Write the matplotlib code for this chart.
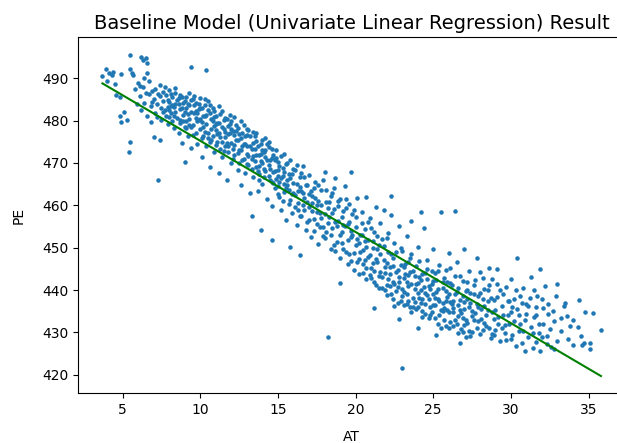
import matplotlib
matplotlib.use("Agg")
import matplotlib.pyplot as plt

plt.rcParams['savefig.bbox'] = 'standard'

# Scatter points (AT, PE), 10 per row
at = [
    3.7, 3.9, 4.1, 4.3, 4.0, 4.5, 4.6, 4.8, 4.4, 4.9,
    5.5, 6.2, 6.3, 6.5, 6.6, 5.5, 5.6, 5.7, 6.6, 5.1,
    4.8, 4.9, 5.3, 5.5, 5.4, 7.3, 7.0, 7.4, 9.4, 10.4,
    5.8, 6.0, 6.1, 6.3, 6.4, 6.5, 6.7, 6.8, 6.9, 7.0,
    5.9, 6.2, 6.6, 6.8, 7.1, 7.2, 7.3, 7.4, 7.5, 7.6,
    7.7, 7.8, 7.9, 8.0, 8.0, 8.1, 8.2, 8.3, 8.3, 8.4,
    8.5, 8.5, 8.6, 8.7, 8.7, 8.8, 8.9, 8.9, 9.0, 9.0,
    9.1, 9.1, 9.2, 9.3, 9.3, 9.4, 9.5, 9.5, 9.6, 9.7,
    9.7, 9.8, 9.9, 9.9, 10.0, 10.0, 10.1, 10.2, 10.2, 10.3,
    10.4, 10.4, 10.5, 10.6, 10.6, 10.7, 10.8, 10.8, 10.9, 11.0,
    11.0, 11.1, 11.2, 11.2, 11.3, 11.4, 11.4, 11.5, 11.6, 11.6,
    11.7, 11.8, 11.8, 11.9, 12.0, 12.0, 12.1, 12.2, 12.2, 12.3,
    12.4, 12.4, 12.5, 12.6, 12.6, 12.7, 12.8, 12.8, 12.9, 13.0,
    13.0, 13.1, 13.2, 13.2, 13.3, 13.4, 13.4, 13.5, 13.6, 13.6,
    13.7, 13.8, 13.8, 13.9, 14.0, 14.0, 14.1, 14.2, 14.2, 14.3,
    14.4, 14.4, 14.5, 14.6, 14.6, 14.7, 14.8, 14.8, 14.9, 15.0,
    15.0, 15.1, 15.2, 15.2, 15.3, 15.4, 15.5, 15.5, 15.6, 15.7,
    15.8, 15.8, 15.9, 16.0, 16.1, 16.1, 16.2, 16.3, 16.4, 16.5,
    16.5, 16.6, 16.7, 16.8, 16.9, 17.0, 17.0, 17.1, 17.2, 17.3,
    17.4, 17.5, 17.6, 17.7, 17.8, 17.9, 18.0, 18.0, 18.1, 18.2,
    18.3, 18.4, 18.5, 18.5, 18.6, 18.7, 18.8, 18.9, 19.0, 19.0,
    19.1, 19.2, 19.3, 19.4, 19.5, 19.5, 19.6, 19.7, 19.8, 19.9,
    20.0, 20.0, 20.1, 20.2, 20.3, 20.4, 20.5, 20.5, 20.6, 20.7,
    20.8, 20.8, 20.9, 21.0, 21.1, 21.2, 21.2, 21.3, 21.4, 21.5,
    21.5, 21.6, 21.7, 21.8, 21.9, 22.0, 22.0, 22.1, 22.2, 22.3,
    22.4, 22.4, 22.5, 22.6, 22.7, 22.8, 22.9, 23.0, 23.0, 23.1,
    23.2, 23.3, 23.3, 23.4, 23.5, 23.6, 23.7, 23.8, 23.9, 24.0,
    24.0, 24.1, 24.2, 24.3, 24.4, 24.5, 24.5, 24.6, 24.7, 24.8,
    24.9, 25.0, 25.0, 25.1, 25.2, 25.3, 25.4, 25.5, 25.5, 25.6,
    25.7, 25.8, 25.9, 26.0, 26.0, 26.1, 26.2, 26.3, 26.4, 26.5,
    26.5, 26.6, 26.7, 26.8, 26.9, 27.0, 27.0, 27.1, 27.2, 27.3,
    27.4, 27.5, 27.6, 27.7, 27.8, 27.9, 28.0, 28.1, 28.2, 28.3,
    28.4, 28.5, 28.6, 28.7, 28.8, 28.9, 29.0, 29.1, 29.2, 29.3,
    29.4, 29.5, 29.6, 29.7, 29.8, 29.9, 30.0, 30.1, 30.2, 30.3,
    30.4, 30.5, 30.6, 30.7, 30.9, 31.0, 31.1, 31.3, 31.4, 31.5,
    31.6, 31.8, 31.9, 32.0, 32.1, 32.3, 32.5, 32.7, 33.0, 33.4,
    33.7, 34.0, 34.5, 34.8, 34.6, 35.8, 34.3, 33.2, 32.8, 35.1,
    7.5, 7.6, 7.8, 7.9, 8.1, 8.2, 8.4, 8.6, 8.8, 8.9,
    9.0, 9.2, 9.3, 9.4, 9.6, 9.8, 9.8, 10.0, 10.1, 10.3,
    10.3, 10.5, 10.6, 10.7, 10.9, 10.9, 11.1, 11.2, 11.3, 11.5,
    11.6, 11.7, 11.9, 12.0, 12.1, 12.3, 12.4, 12.5, 12.7, 12.9,
    13.0, 13.1, 13.3, 13.5, 13.6, 13.7, 13.9, 14.0, 14.1, 14.3,
    14.4, 14.5, 14.7, 14.9, 15.0, 15.1, 15.3, 15.4, 15.6, 15.7,
    15.9, 16.0, 16.2, 16.3, 16.4, 16.6, 16.7, 16.9, 17.0, 17.2,
    17.3, 17.5, 17.6, 17.8, 17.9, 18.1, 18.2, 18.4, 18.6, 18.7,
    18.9, 19.1, 19.2, 19.4, 19.6, 19.7, 19.9, 20.1, 20.2, 20.4,
    20.6, 20.7, 20.9, 21.0, 21.1, 21.3, 21.4, 21.6, 21.7, 21.9,
    22.0, 22.1, 22.3, 22.4, 22.6, 22.7, 22.9, 23.0, 23.1, 23.3,
    23.4, 23.5, 23.6, 23.8, 23.9, 24.1, 24.2, 24.3, 24.5, 24.6,
    24.7, 24.9, 25.0, 25.1, 25.3, 25.4, 25.6, 25.7, 25.9, 26.0,
    26.1, 26.3, 26.4, 26.6, 26.7, 26.9, 27.0, 27.2, 27.3, 27.5,
    27.6, 27.8, 27.9, 28.0, 28.2, 28.3, 28.5, 28.6, 28.8, 28.9,
    29.1, 29.4, 29.7, 30.0, 30.2, 30.4, 30.6, 30.8, 31.1, 31.3,
    31.5, 31.7, 32.0, 32.2, 32.4, 32.6, 32.9, 33.2, 33.5, 34.4,
    35.3, 34.7, 35.1, 34.0, 33.8, 33.0, 31.9, 32.4, 30.9, 31.6,
    20.7, 22.3, 24.2, 26.4, 21.2, 25.2, 26.7, 16.4, 14.6, 13.9,
    13.3, 15.8, 19.0, 19.7, 21.8, 23.6, 22.8, 24.0, 25.8, 27.1,
    22.2, 22.5, 22.8, 23.1, 23.4, 23.7, 24.0, 24.3, 24.6, 24.8,
    25.1, 25.3, 25.6, 25.8, 26.1, 26.3, 26.6, 26.9, 27.2, 27.4,
    8.0, 8.4, 8.7, 9.1, 9.4, 9.7, 10.1, 10.5, 11.0, 11.4,
    11.8, 12.2, 12.6, 13.0, 13.4, 13.8, 14.2, 14.6, 15.0, 15.4,
    6.1, 6.4, 6.7, 6.9, 7.1, 7.2, 7.4, 7.6, 7.7, 7.9,
    8.0, 8.1, 8.2, 8.3, 8.4, 8.6, 8.7, 8.8, 9.0, 9.1,
    9.2, 9.3, 9.4, 9.5, 9.6, 9.7, 9.9, 10.0, 10.1, 10.2,
    10.3, 10.4, 10.5, 10.6, 10.7, 10.8, 10.9, 11.0, 11.1, 11.2,
    11.3, 11.4, 11.5, 11.6, 11.7, 11.8, 11.9, 12.0, 12.1, 12.2,
    12.3, 12.4, 12.5, 12.6, 12.7, 12.8, 12.9, 13.0, 13.1, 13.2,
    13.3, 13.4, 13.5, 13.6, 13.7, 13.8, 13.9, 14.0, 14.1, 14.2,
    14.3, 14.4, 14.5, 14.6, 14.7, 14.8, 14.9, 15.0, 15.1, 15.2,
    15.3, 15.4, 15.5, 15.6, 15.7, 15.8, 15.9, 16.0, 16.1, 16.2,
    16.3, 16.4, 16.5, 16.6, 16.7, 16.8, 16.9, 17.0, 17.1, 17.2,
    17.3, 17.4, 17.5, 17.6, 17.7, 17.8, 17.9, 18.0, 18.1, 18.2,
    18.3, 18.4, 18.5, 18.6, 18.7, 18.8, 18.9, 19.0, 19.1, 19.2,
    19.3, 19.4, 19.5, 19.6, 19.7, 19.8, 19.9, 20.0, 20.1, 20.2,
    20.3, 20.4, 20.5, 20.6, 20.7, 20.8, 20.9, 21.0, 21.1, 21.2,
    21.3, 21.4, 21.5, 21.6, 21.7, 21.8, 21.9, 22.0, 22.1, 22.2,
    22.3, 22.4, 22.5, 22.6, 22.7, 22.8, 22.9, 23.0, 23.1, 23.2,
    23.3, 23.4, 23.5, 23.6, 23.7, 23.8, 23.9, 24.0, 24.1, 24.2,
    24.3, 24.4, 24.5, 24.6, 24.7, 24.8, 24.9, 25.0, 25.1, 25.2,
    25.3, 25.4, 25.5, 25.6, 25.7, 25.8, 25.9, 26.0, 26.1, 26.2,
    26.3, 26.4, 26.5, 26.6, 26.7, 26.8, 26.9, 27.0, 27.1, 27.2,
    27.3, 27.4, 27.5, 27.6, 27.7, 27.8, 27.9, 28.0, 28.1, 28.2,
    28.3, 28.4, 28.5, 28.6, 28.7, 28.8, 28.9, 29.0, 29.1, 29.2,
    29.3, 29.5, 29.6, 29.8, 29.9, 30.0, 30.1, 30.3, 30.5, 30.7,
    30.8, 31.0, 31.2, 31.4, 31.6, 31.8, 32.1, 32.3, 32.8, 33.6,
]

pe = [
    490.5, 492.3, 491.2, 490.7, 489.4, 488.6, 486.0, 485.6, 491.6, 491.1,
    495.6, 495.0, 494.3, 494.7, 493.5, 492.1, 491.2, 490.8, 491.2, 482.1,
    481.1, 479.7, 480.1, 475.0, 472.6, 466.1, 476.2, 475.4, 492.7, 492.0,
    487.5, 489.0, 485.8, 487.9, 484.2, 486.6, 489.3, 483.5, 487.0, 485.2,
    484.0, 482.6, 481.0, 479.6, 481.8, 483.9, 486.3, 488.4, 480.2, 484.7,
    482.5, 486.1, 479.1, 484.4, 487.3, 481.7, 485.5, 478.2, 483.2, 486.5,
    480.6, 484.9, 477.0, 482.8, 486.0, 474.8, 481.3, 484.1, 470.2, 478.6,
    482.9, 485.7, 476.4, 480.5, 483.6, 473.5, 479.0, 485.0, 481.9, 477.2,
    484.2, 474.6, 480.1, 482.7, 478.0, 485.3, 471.4, 476.3, 481.2, 483.8,
    474.0, 479.2, 477.1, 481.8, 469.0, 475.5, 479.9, 483.0, 472.6, 477.8,
    481.0, 474.9, 467.6, 479.4, 476.2, 482.3, 471.3, 478.1, 474.0, 480.6,
    465.9, 476.9, 472.5, 479.2, 474.8, 469.9, 477.6, 480.9, 471.8, 475.4,
    468.3, 478.3, 473.1, 476.0, 464.7, 470.6, 474.4, 479.0, 467.7, 472.2,
    476.6, 469.5, 462.9, 474.1, 471.0, 477.3, 466.8, 473.2, 469.0, 475.3,
    463.4, 471.9, 467.3, 474.5, 470.1, 465.0, 472.6, 468.2, 476.0, 461.5,
    469.6, 473.7, 466.1, 471.2, 459.8, 467.9, 464.0, 470.8, 473.0, 462.6,
    468.4, 465.6, 471.6, 459.0, 466.9, 463.1, 469.7, 456.6, 464.8, 467.5,
    461.2, 470.6, 458.1, 465.2, 462.4, 468.3, 455.3, 460.5, 466.6, 463.5,
    457.6, 469.4, 461.8, 454.2, 464.7, 459.7, 467.2, 452.6, 462.3, 456.8,
    465.5, 460.0, 450.9, 458.3, 463.6, 455.0, 467.9, 452.2, 460.9, 428.9,
    457.3, 449.6, 463.0, 454.6, 459.1, 466.4, 451.4, 456.2, 447.5, 461.5,
    453.8, 458.6, 464.5, 449.1, 455.7, 446.2, 460.2, 452.5, 457.9, 444.8,
    450.6, 455.0, 461.8, 447.3, 452.9, 458.4, 444.0, 449.4, 454.3, 442.6,
    447.9, 451.8, 457.0, 445.2, 449.9, 441.8, 453.6, 459.6, 446.6, 443.4,
    450.7, 455.9, 440.5, 447.2, 444.1, 452.3, 438.9, 449.0, 445.5, 457.8,
    442.0, 447.6, 451.1, 439.7, 444.8, 455.2, 437.4, 421.5, 449.3, 442.8,
    446.1, 436.6, 452.7, 440.9, 444.2, 448.5, 438.1, 443.3, 435.5, 450.2,
    441.6, 446.8, 437.0, 443.9, 454.6, 439.4, 434.3, 447.1, 441.0, 436.1,
    444.5, 439.0, 449.7, 433.5, 442.4, 437.8, 446.0, 458.5, 435.3, 440.6,
    432.9, 444.7, 438.4, 448.8, 434.7, 441.7, 436.6, 431.6, 443.3, 439.5,
    446.6, 433.9, 437.7, 430.8, 442.1, 435.6, 449.8, 439.8, 432.3, 444.4,
    436.9, 430.1, 441.2, 434.5, 447.5, 438.6, 429.6, 433.1, 442.9, 436.3,
    431.4, 439.9, 445.2, 428.6, 434.8, 437.6, 430.5, 441.5, 433.7, 427.9,
    436.2, 439.1, 431.8, 428.2, 434.0, 437.3, 442.6, 429.4, 432.6, 426.8,
    435.5, 430.3, 438.7, 427.5, 433.0, 436.7, 428.9, 431.2, 426.3, 440.1,
    434.2, 429.8, 425.6, 437.9, 432.0, 427.2, 430.7, 435.1, 428.0, 436.3,
    428.4, 432.9, 429.2, 434.9, 427.0, 430.5, 431.3, 433.4, 426.0, 427.6,
    483.0, 486.8, 481.2, 484.8, 483.5, 480.0, 482.1, 485.3, 483.0, 479.8,
    484.6, 481.5, 486.6, 478.4, 483.7, 479.9, 481.9, 483.1, 479.7, 481.0,
    477.4, 484.6, 475.0, 480.5, 478.7, 482.2, 476.9, 483.4, 473.3, 480.2,
    477.3, 474.8, 481.4, 478.0, 473.2, 478.9, 475.5, 470.1, 477.2, 474.6,
    469.8, 477.9, 473.4, 470.4, 477.0, 468.0, 472.1, 475.4, 466.8, 470.6,
    474.9, 468.7, 472.0, 466.2, 470.3, 462.0, 468.9, 472.2, 466.1, 460.3,
    467.4, 463.0, 469.5, 458.9, 464.3, 460.1, 466.8, 456.1, 462.6, 458.6,
    464.1, 455.6, 461.0, 457.1, 466.0, 453.7, 459.4, 462.1, 450.7, 456.0,
    459.9, 451.1, 455.3, 461.6, 448.6, 454.0, 458.8, 446.6, 451.0, 455.9,
    447.0, 450.2, 443.6, 454.7, 446.5, 441.3, 449.7, 444.3, 452.1, 439.9,
    446.3, 442.5, 448.4, 437.9, 444.2, 440.7, 450.0, 438.5, 445.4, 441.9,
    437.4, 447.6, 434.7, 440.2, 445.7, 438.2, 442.3, 435.1, 444.0, 438.8,
    433.3, 441.4, 436.4, 444.1, 440.3, 434.2, 437.0, 442.9, 435.4, 439.1,
    445.3, 437.3, 433.0, 440.5, 435.2, 438.5, 431.7, 441.9, 436.0, 433.8,
    439.0, 431.0, 435.9, 444.3, 438.0, 432.2, 435.4, 441.1, 429.7, 433.2,
    444.9, 431.0, 440.8, 434.8, 438.0, 447.5, 432.0, 440.6, 436.3, 443.0,
    433.6, 438.6, 429.0, 440.9, 434.4, 426.5, 438.5, 430.4, 436.9, 437.6,
    434.5, 427.4, 426.0, 427.0, 431.5, 441.5, 445.0, 436.7, 425.7, 427.8,
    462.0, 462.1, 458.4, 458.6, 435.7, 429.3, 427.4, 448.2, 451.8, 454.1,
    457.4, 450.1, 441.6, 467.9, 458.9, 456.2, 433.2, 431.0, 431.5, 428.8,
    441.0, 436.2, 443.0, 439.6, 443.5, 435.9, 439.3, 437.9, 442.6, 434.0,
    438.1, 432.0, 435.1, 439.7, 432.5, 434.9, 429.9, 433.4, 437.9, 429.2,
    482.6, 484.0, 479.5, 480.0, 484.9, 482.3, 476.0, 482.5, 479.1, 475.0,
    478.7, 476.6, 473.0, 478.1, 471.7, 469.4, 473.1, 465.4, 467.0, 465.0,
    488.2, 490.1, 486.3, 484.4, 487.5, 480.8, 485.9, 482.0, 487.9, 483.3,
    480.9, 486.2, 483.8, 481.0, 487.6, 483.9, 480.1, 485.6, 482.0, 478.3,
    483.9, 479.0, 482.1, 476.5, 485.9, 480.6, 484.0, 480.4, 482.9, 478.4,
    485.0, 481.4, 475.8, 483.6, 478.0, 476.4, 480.8, 474.3, 479.4, 477.0,
    481.6, 478.6, 472.8, 476.2, 480.4, 474.1, 477.0, 480.0, 471.0, 474.3,
    477.5, 472.4, 476.8, 479.8, 474.0, 470.9, 476.4, 474.0, 471.6, 476.3,
    468.6, 474.8, 476.4, 471.8, 473.9, 465.9, 470.4, 473.1, 468.6, 471.4,
    474.4, 467.0, 470.6, 473.2, 465.3, 468.0, 471.2, 464.6, 469.2, 466.5,
    461.0, 467.8, 464.2, 470.1, 463.7, 466.4, 462.6, 468.6, 459.6, 465.1,
    463.3, 457.4, 467.7, 462.8, 458.8, 464.8, 460.7, 456.6, 463.4, 460.5,
    453.9, 461.8, 458.4, 464.9, 455.0, 460.1, 452.7, 457.9, 463.7, 455.8,
    460.7, 453.0, 458.1, 464.1, 449.2, 455.1, 461.1, 452.9, 457.2, 449.8,
    455.2, 459.3, 451.7, 456.1, 446.9, 453.1, 448.8, 457.2, 452.1, 443.8,
    449.1, 453.0, 446.1, 451.5, 445.1, 456.1, 448.3, 442.8, 451.6, 444.6,
    447.4, 452.8, 440.4, 448.4, 443.0, 450.3, 445.4, 441.1, 453.4, 443.9,
    439.1, 445.7, 441.5, 448.9, 436.9, 442.0, 446.0, 440.2, 436.4, 443.8,
    439.0, 446.7, 436.0, 441.4, 444.6, 437.2, 441.5, 435.9, 443.1, 439.9,
    433.7, 440.7, 436.8, 444.9, 437.9, 440.3, 434.8, 442.1, 436.5, 439.6,
    444.5, 437.3, 431.0, 441.9, 435.7, 437.4, 442.0, 431.0, 437.2, 441.3,
    435.8, 439.0, 432.1, 436.5, 443.4, 434.6, 430.2, 437.1, 433.0, 440.1,
    430.4, 439.2, 435.0, 432.9, 442.3, 436.7, 432.7, 439.3, 435.5, 430.5,
    440.2, 434.0, 437.4, 431.0, 438.2, 442.5, 429.3, 435.3, 438.3, 431.9,
    440.0, 434.2, 429.8, 437.4, 432.1, 428.4, 436.0, 440.0, 434.0, 437.0,
    430.3, 434.3, 438.1, 429.9, 436.0, 432.1, 435.8, 429.1, 432.6, 433.8,
]

# Fitted regression line end points
line_at = [3.7, 35.8]
line_pe = [488.8, 419.7]

x_ticks = [5, 10, 15, 20, 25, 30, 35]
y_ticks = [420, 430, 440, 450, 460, 470, 480, 490]

n = min(len(at), len(pe))

fig = plt.figure(figsize=(6.17, 4.43), dpi=100)
ax = fig.add_axes([0.127, 0.112, 0.886, 0.804])
ax.scatter(at[:n], pe[:n], s=5, color="#1f77b4")
ax.plot(line_at, line_pe, color="green")
ax.set_xlim(2.15, 37.35)
ax.set_ylim(415.6, 499.7)
ax.set_xticks(x_ticks)
ax.set_yticks(y_ticks)
ax.set_title("Baseline Model (Univariate Linear Regression) Result", fontsize=14)
ax.set_xlabel("AT", labelpad=9)
ax.set_ylabel("PE", labelpad=12)
fig.savefig("out.png", dpi=100, bbox_inches=None)
